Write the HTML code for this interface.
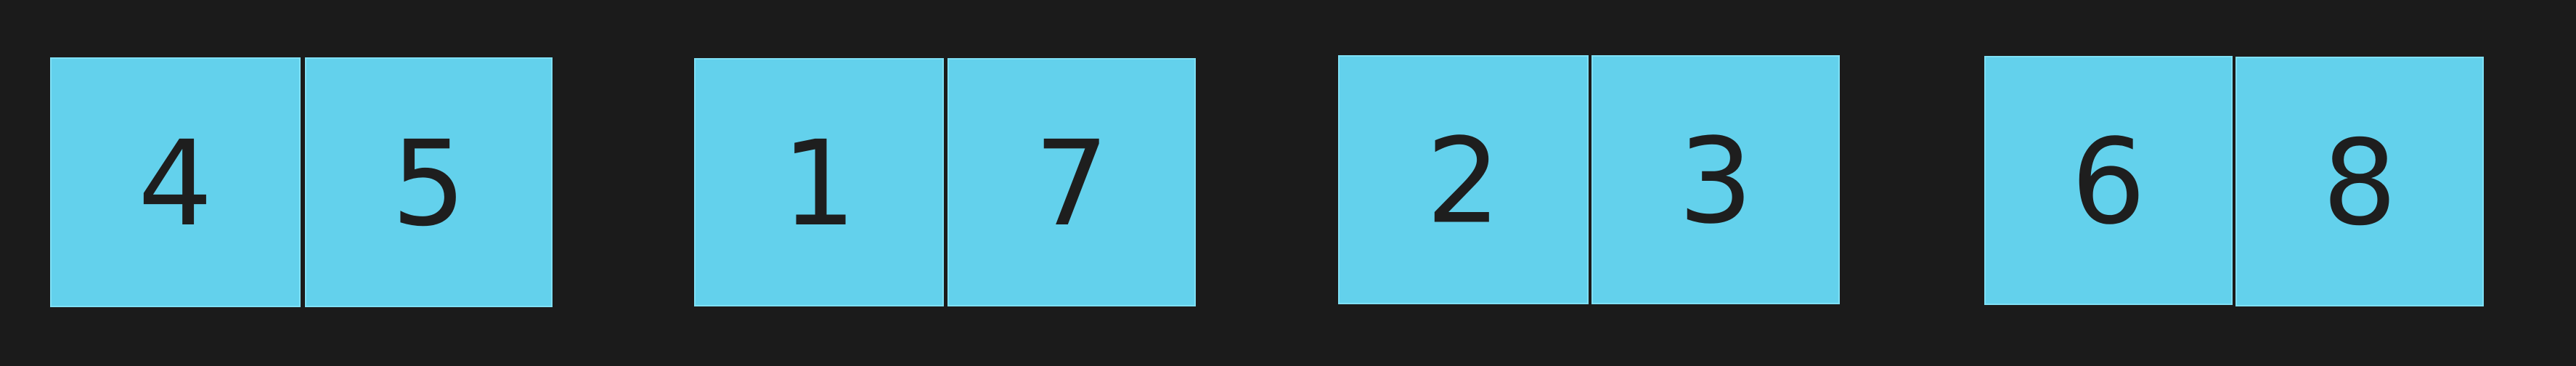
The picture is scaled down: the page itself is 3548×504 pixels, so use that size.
<!DOCTYPE html>
<html><head><meta charset="utf-8">
<style>
html,body{margin:0;padding:0;background:#1b1b1b;}
svg{display:block;}
</style></head>
<body>
<svg id="chart" width="3548" height="504" viewBox="0 0 3548 504">
<rect x="0" y="0" width="3548" height="504" fill="#1b1b1b"/>
</svg>
<script>
const tileLabels = ["4","5","1","7","2","3","6","8"];
const tileLeft = [70,421,957,1306,1844,2193,2734,3080];
const tileRight = [413,760,1299,1646,2187,2533,3074,3420];
const tileTop = [80,80,81,81,77,77,78,79];
const tileBottom = [422,422,421,421,418,418,419,421];

const svg = document.getElementById('chart');
const NS = 'http://www.w3.org/2000/svg';
for (let i = 0; i < tileLabels.length; i++) {
  const g = document.createElementNS(NS, 'g');
  
  
  const r = document.createElementNS(NS, 'rect');
  
  
  r.setAttribute('x', tileLeft[i]);
  r.setAttribute('y', tileTop[i]);
  r.setAttribute('width', tileRight[i] - tileLeft[i]);
  r.setAttribute('height', tileBottom[i] - tileTop[i]);
  r.setAttribute('fill', '#63d1ec');
  r.setAttribute('stroke', '#7fe0f5');
  r.setAttribute('stroke-width', '2');
  g.appendChild(r);
  const t = document.createElementNS(NS, 'text');
  
  
  t.setAttribute('x', (tileLeft[i] + tileRight[i]) / 2);
  t.setAttribute('y', (tileTop[i] + tileBottom[i]) / 2 + 58);
  t.setAttribute('text-anchor', 'middle');
  t.setAttribute('font-family', '"DejaVu Sans", "Liberation Sans", sans-serif');
  t.setAttribute('font-size', '162');
  t.setAttribute('fill', '#1e1e1e');
  t.textContent = tileLabels[i];
  g.appendChild(t);
  svg.appendChild(g);
}
</script>
</body></html>
